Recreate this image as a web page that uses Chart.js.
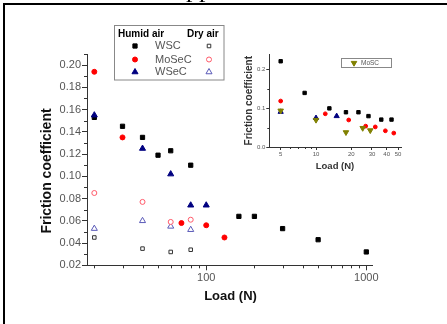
<!DOCTYPE html>
<html>
<head>
<meta charset="utf-8">
<script src="https://cdn.jsdelivr.net/npm/chart.js@4.4.0/dist/chart.umd.min.js"></script>
<style>
  html, body { margin: 0; padding: 0; background: #fff; }
  #wrap { position: relative; width: 447px; height: 324px; overflow: hidden; }
  #frame { position: absolute; left: 3px; top: 3px; width: 460px; height: 340px; border-left: 2px solid #000; border-top: 2px solid #000; }
  #main { position: absolute; left: 0; top: 0; }
  #inset { position: absolute; left: 230px; top: 40px; }
</style>
</head>
<body>
<div id="wrap">
  <div id="frame"></div>
  <canvas id="main" width="447" height="324"></canvas>
  <canvas id="inset" width="217" height="140"></canvas>
</div>
<script>
(function () {
    'use strict';

    // ---- main plot: friction coefficient vs load ----
    const seriesNames = ['WSC', 'MoSeC', 'WSeC']
    const conditions = ['Humid air', 'Dry air']

    const wscHumidLoad = [20, 30, 40, 50, 60, 80, 160, 200, 300, 500, 1000]
    const wscHumidCof = [0.153, 0.145, 0.135, 0.119, 0.123, 0.110, 0.064, 0.064, 0.053, 0.043, 0.032]
    const mosecHumidLoad = [20, 30, 70, 100, 130]
    const mosecHumidCof = [0.194, 0.135, 0.058, 0.056, 0.045]
    const wsecHumidLoad = [20, 40, 60, 80, 100]
    const wsecHumidCof = [0.155, 0.125, 0.102, 0.074, 0.074]

    const dryLoad = [20, 40, 60, 80]
    const wscDryCof = [0.045, 0.035, 0.032, 0.034]
    const mosecDryCof = [0.085, 0.077, 0.059, 0.061]
    const wsecDryCof = [0.053, 0.060, 0.055, 0.052]

    const mainXTicks = [100, 1000]
    const mainXMinor = [20, 30, 40, 50, 60, 70, 80, 90, 200, 300, 400, 500, 600, 700, 800, 900]
    const mainYTicks = [0.02, 0.04, 0.06, 0.08, 0.10, 0.12, 0.14, 0.16, 0.18, 0.20]
    const mainYMinor = [0.03, 0.05, 0.07, 0.09, 0.11, 0.13, 0.15, 0.17, 0.19, 0.21]

    // ---- inset: low load range ----
    const insetNames = ['MoSC']
    const insetWscLoad = [5, 8, 13, 18, 23, 28, 36, 44]
    const insetWscCof = [0.222, 0.140, 0.100, 0.090, 0.090, 0.080, 0.071, 0.071]
    const insetMosecLoad = [5, 12, 19, 26.5, 32, 39, 46]
    const insetMosecCof = [0.119, 0.086, 0.070, 0.054, 0.052, 0.042, 0.036]
    const insetWsecLoad = [5, 10, 15]
    const insetWsecCof = [0.091, 0.075, 0.080]
    const insetMoscLoad = [5, 10, 18, 25, 29]
    const insetMoscCof = [0.094, 0.070, 0.038, 0.049, 0.043]

    const insetXTicks = [5, 10, 20, 30, 40, 50]
    const insetXMinor = [6, 7, 8, 9]
    const insetYTicks = [0, 0.1, 0.2]
    const insetYMinor = [0.05, 0.15]

    const FONT = '"Liberation Sans", Arial, sans-serif'
    const AXIS = '#333'
    const TICKTXT = '#555'

    function pts(xs, ys) {
        return xs.map((x, i) => ({ x: x, y: ys[i] }))
    }

    function marker(label, data, style, r, fill, line, rot) {
        return {
            label: label, data: data, pointStyle: style, pointRadius: r,
            pointRotation: rot || 0, backgroundColor: fill, borderColor: line,
            borderWidth: 1, showLine: false
        }
    }

    function drawMark(ctx, ds, x, y) {
        ctx.save()
        ctx.fillStyle = ds.backgroundColor
        ctx.strokeStyle = ds.borderColor
        ctx.lineWidth = ds.borderWidth
        Chart.helpers.drawPoint(ctx, {
            pointStyle: ds.pointStyle, radius: ds.pointRadius,
            rotation: ds.pointRotation, borderWidth: ds.borderWidth
        }, x, y)
        ctx.restore()
    }

    function minorTicks(chart, xs, ys, len) {
        const ctx = chart.ctx
        const a = chart.chartArea
        ctx.save()
        ctx.strokeStyle = AXIS
        ctx.lineWidth = 1
        ctx.beginPath()
        xs.forEach(v => {
            const px = Math.round(chart.scales.x.getPixelForValue(v)) + 0.5
            ctx.moveTo(px, a.bottom)
            ctx.lineTo(px, a.bottom + len)
        })
        ys.forEach(v => {
            const py = Math.round(chart.scales.y.getPixelForValue(v)) + 0.5
            ctx.moveTo(a.left, py)
            ctx.lineTo(a.left - len, py)
        })
        ctx.stroke()
        ctx.restore()
    }

    function text(ctx, str, x, y, font, color, align, rot) {
        ctx.save()
        ctx.translate(x, y)
        if (rot) ctx.rotate(rot)
        ctx.font = font
        ctx.fillStyle = color
        ctx.textAlign = align || 'center'
        ctx.textBaseline = 'middle'
        ctx.fillText(str, 0, 0)
        ctx.restore()
    }

    function axisOpts(type, min, max, tickVals, fmt, size, tl, fit) {
        return {
            type: type, min: min, max: max,
            afterBuildTicks: s => { s.ticks = tickVals.map(v => ({ value: v })) },
            afterFit: fit,
            ticks: {
                callback: fmt, color: TICKTXT, padding: 1,
                font: { family: FONT, size: size }, autoSkip: false, maxRotation: 0
            },
            grid: { drawOnChartArea: false, tickLength: tl, color: AXIS },
            border: { color: AXIS, width: 1 }
        }
    }

    // main chart
    const mainSets = [
        marker(seriesNames[2] + ' humid', pts(wsecHumidLoad, wsecHumidCof), 'triangle', 3.5, '#000080', '#000080'),
        marker(seriesNames[0] + ' humid', pts(wscHumidLoad, wscHumidCof), 'rect', 3, '#000', '#000'),
        marker(seriesNames[1] + ' humid', pts(mosecHumidLoad, mosecHumidCof), 'circle', 2.5, '#ff0000', '#ff0000'),
        marker(seriesNames[0] + ' dry', pts(dryLoad, wscDryCof), 'rect', 2.5, '#fff', '#333'),
        marker(seriesNames[1] + ' dry', pts(dryLoad, mosecDryCof), 'circle', 2.5, '#fff', '#ff5a6a'),
        marker(seriesNames[2] + ' dry', pts(dryLoad, wsecDryCof), 'triangle', 3.5, '#fff', '#5a5ab8')
    ]

    const mainDecor = {
        id: 'mainDecor',
        afterDraw(chart) {
            const ctx = chart.ctx
            minorTicks(chart, mainXMinor, mainYMinor, 3)

            // axis titles
            text(ctx, 'Friction coefficient', 47, 171, 'bold 14px ' + FONT, '#111', 'center', -Math.PI / 2)
            text(ctx, 'Load (N)', 230.5, 296, 'bold 13px ' + FONT, '#111')

            // cut-off heading text above the frame
            ctx.save()
            ctx.font = '26px "Liberation Serif", serif'
            ctx.fillStyle = '#000'
            ctx.textBaseline = 'alphabetic'
            ctx.fillText('pp', 186, -3.5)
            ctx.restore()

            // legend box
            ctx.save()
            ctx.fillStyle = '#fff'
            ctx.fillRect(114.5, 25.5, 109.5, 54.5)
            ctx.strokeStyle = '#888'
            ctx.lineWidth = 1
            ctx.strokeRect(114.5, 25.5, 109.5, 54.5)
            ctx.restore()
            text(ctx, conditions[0], 118, 34.5, 'bold 10px ' + FONT, '#000', 'left')
            text(ctx, conditions[1], 187, 34.5, 'bold 10px ' + FONT, '#000', 'left')
            const rowY = [46, 59.5, 72]
            const humid = [1, 2, 0]
            const dry = [3, 4, 5]
            seriesNames.forEach((name, i) => {
                drawMark(ctx, mainSets[humid[i]], 135, rowY[i])
                drawMark(ctx, mainSets[dry[i]], 209, rowY[i])
                text(ctx, name, 155, rowY[i], '11px ' + FONT, TICKTXT, 'left')
            })
        }
    }

    new Chart(document.getElementById('main'), {
        type: 'scatter',
        data: { datasets: mainSets },
        options: {
            responsive: false, animation: false, devicePixelRatio: 1, events: [],
            layout: { padding: { left: 0, top: 54, right: 74.7, bottom: 38.7 } },
            plugins: { legend: { display: false }, tooltip: { enabled: false } },
            scales: {
                x: axisOpts('logarithmic', 18, 1090, mainXTicks, v => String(v), 11, 5, s => { s.height = 20 }),
                y: axisOpts('linear', 0.02, 0.21, mainYTicks, v => v.toFixed(2), 11, 5, s => { s.width = 87 })
            }
        },
        plugins: [mainDecor]
    })

    // inset chart
    const insetSets = [
        marker(insetNames[0], pts(insetMoscLoad, insetMoscCof), 'triangle', 3.2, '#808000', '#808000', 180),
        marker('WSC', pts(insetWscLoad, insetWscCof), 'rect', 2.4, '#000', '#000'),
        marker('MoSeC', pts(insetMosecLoad, insetMosecCof), 'circle', 1.9, '#ff0000', '#ff0000'),
        marker('WSeC', pts(insetWsecLoad, insetWsecCof), 'triangle', 3, '#000080', '#000080')
    ]

    const insetDecor = {
        id: 'insetDecor',
        afterDraw(chart) {
            const ctx = chart.ctx
            minorTicks(chart, insetXMinor, insetYMinor, 2)
            text(ctx, 'Friction coefficient', 19.7, 60.7, 'bold 10px ' + FONT, '#333', 'center', -Math.PI / 2)
            text(ctx, 'Load (N)', 105, 126.7, 'bold 9.5px ' + FONT, '#333')

            ctx.save()
            ctx.strokeStyle = '#888'
            ctx.lineWidth = 1
            ctx.strokeRect(111.5, 18.5, 50, 9)
            ctx.restore()
            drawMark(ctx, insetSets[0], 124, 23)
            text(ctx, insetNames[0], 131, 23.2, '6.5px ' + FONT, TICKTXT, 'left')
        }
    }

    new Chart(document.getElementById('inset'), {
        type: 'scatter',
        data: { datasets: insetSets },
        options: {
            responsive: false, animation: false, devicePixelRatio: 1, events: [],
            layout: { padding: { left: 0, top: 14.3, right: 46, bottom: 18 } },
            plugins: { legend: { display: false }, tooltip: { enabled: false } },
            scales: {
                x: axisOpts('logarithmic', 4, 53, insetXTicks, v => String(v), 6, 3, s => { s.height = 15 }),
                y: axisOpts('linear', 0, 0.24, insetYTicks, v => v.toFixed(1), 6, 3, s => { s.width = 39.3 })
            }
        },
        plugins: [insetDecor]
    })
})();
</script>
</body>
</html>
